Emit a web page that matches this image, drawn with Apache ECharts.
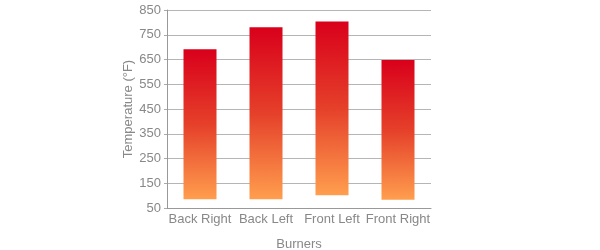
<!DOCTYPE html>
<html>
<head>
<meta charset="utf-8">
<script src="https://cdn.jsdelivr.net/npm/echarts@6/dist/echarts.min.js"></script>
<style>html,body{margin:0;padding:0;background:#fff}#c{width:600px;height:250px}</style>
</head>
<body>
<div id="c"></div>
<script>
var categories = ['Back Right', 'Back Left', 'Front Left', 'Front Right'];
var lows = [85, 85, 102, 83];
var highs = [691, 780, 804, 648];
var yTicks = [50, 150, 250, 350, 450, 550, 650, 750, 850];

var chart = echarts.init(document.getElementById('c'), null, {renderer: 'canvas'});
var font = '"Liberation Sans", Helvetica, Arial, sans-serif';
chart.setOption({
  animation: false,
  grid: {left: 167, right: 169, top: 10, bottom: 42, outerBoundsMode: 'none', containLabel: false},
  xAxis: {
    type: 'category',
    data: categories,
    name: 'Burners',
    nameLocation: 'middle',
    nameGap: 30,
    nameTextStyle: {color: '#888', fontSize: 13, fontFamily: font},
    axisLine: {lineStyle: {color: '#999', width: 1}},
    axisTick: {show: false},
    axisLabel: {color: '#888', fontSize: 13, fontFamily: font, margin: 5, interval: 0}
  },
  yAxis: {
    type: 'value',
    min: yTicks[0],
    max: yTicks[yTicks.length - 1],
    interval: 100,
    name: 'Temperature (°F)',
    nameLocation: 'middle',
    nameGap: 27,
    nameTextStyle: {color: '#888', fontSize: 13, fontFamily: font},
    axisLine: {show: true, lineStyle: {color: '#999', width: 1}},
    axisTick: {show: true, length: 3, lineStyle: {color: '#aaa'}},
    axisLabel: {color: '#888', fontSize: 13, fontFamily: font, margin: 6},
    splitLine: {lineStyle: {color: '#b5b5b5', width: 1}}
  },
  series: [
    {
      type: 'bar', stack: 'a', barWidth: '50%',
      itemStyle: {color: 'rgba(0,0,0,0)'},
      data: lows, silent: true
    },
    {
      type: 'bar', stack: 'a', barWidth: '50%',
      itemStyle: {
        color: new echarts.graphic.LinearGradient(0, 0, 0, 1, [
          {offset: 0, color: '#d9001b'},
          {offset: 0.5, color: '#e5402a'},
          {offset: 1, color: '#ff9e4e'}
        ])
      },
      data: highs.map(function (h, i) { return h - lows[i]; })
    }
  ]
});
</script>
</body>
</html>
